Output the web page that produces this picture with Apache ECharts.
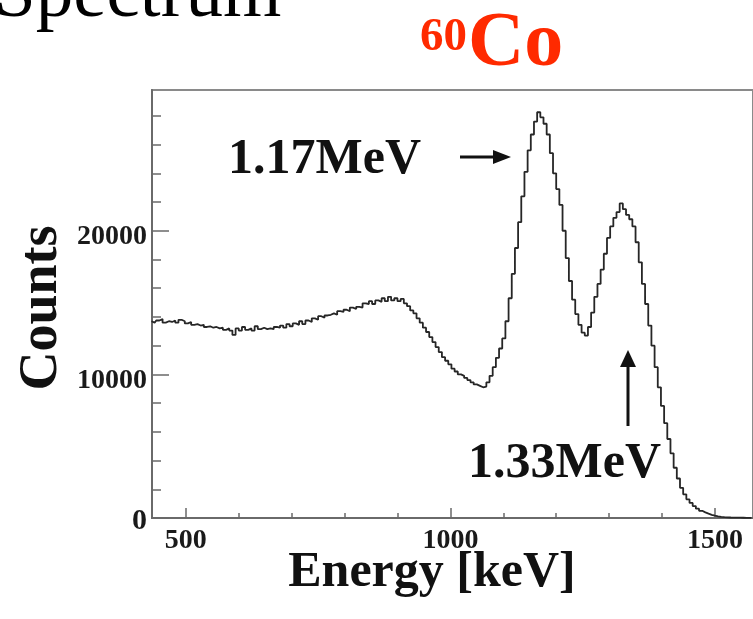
<!DOCTYPE html>
<html>
<head>
<meta charset="utf-8">
<script src="https://cdn.jsdelivr.net/npm/echarts@6/dist/echarts.min.js"></script>
<style>
  html, body { margin: 0; padding: 0; background: #ffffff; }
  #chart { width: 753px; height: 619px; }
</style>
</head>
<body>
<div id="chart"></div>
<script>
// 60Co gamma spectrum: histogram bins of 6 keV starting at 432 keV
const binStart = 432;
const binWidth = 6;
const counts = [
  13700, 13600, 13750, 13850, 13600, 13700, 13650, 13750, 13600, 13800,
  13700, 13550, 13650, 13450, 13500, 13400, 13450, 13300, 13350, 13250,
  13300, 13200, 13250, 13100, 13200, 13050, 12750, 13200, 13050, 13300,
  13100, 13200, 13050, 13350, 13150, 13250, 13150, 13200, 13150, 13300,
  13250, 13400, 13250, 13500, 13350, 13550, 13450, 13700, 13500, 13750,
  13650, 13900, 13800, 14050, 13950, 14100, 14150, 14250, 14150, 14400,
  14350, 14500, 14400, 14650, 14550, 14700, 14650, 14950, 14900, 15100,
  14900, 15150, 15050, 15300, 15100, 15400, 15150, 15300, 15100, 15250,
  14950, 14750, 14450, 14250, 13900, 13600, 13250, 12950, 12600, 12250,
  11900, 11550, 11200, 10950, 10700, 10400, 10200, 10000, 9900, 9750,
  9600, 9450, 9300, 9200, 9100, 9150, 9450, 9900, 10500, 11150,
  11800, 12500, 13700, 15300, 17000, 18800, 20600, 22400, 24100, 25600,
  26700, 27600, 28250, 27900, 27450, 26700, 25400, 24000, 22900, 21800,
  20000, 18100, 16500, 15200, 14200, 13450, 12900, 12700, 13300, 14300,
  15400, 16300, 17300, 18400, 19500, 20300, 20900, 21300, 21900, 21500,
  21100, 20800, 20300, 19200, 17800, 16300, 14900, 13400, 12000, 10500,
  9100, 7800, 6600, 5500, 4500, 3500, 2750, 2100, 1650, 1300,
  1050, 830, 650, 500, 390, 300, 220, 160, 110, 80,
  60, 45, 35, 30, 25, 20, 18, 15, 12, 10
];

// axis ranges and tick positions
const energyRange = [436, 1572];
const countRange = [0, 29800];
const energyTicks = [500, 1000, 1500];
const energyMinorTicks = [600, 700, 800, 900, 1100, 1200, 1300, 1400];
const countTicks = [0, 10000, 20000];
const countMinorTicks = [2000, 4000, 6000, 8000, 12000, 14000, 16000, 18000, 22000, 24000, 26000, 28000];

const serif = "'Liberation Serif', 'DejaVu Serif', serif";
const axisGray = '#6a6a6a';

const histData = counts.map((c, i) => [binStart + binWidth * (i + 0.5), c]);

const chart = echarts.init(document.getElementById('chart'), null, { renderer: 'canvas' });

chart.setOption({
  animation: false,
  backgroundColor: '#ffffff',
  grid: {
    left: 152, top: 90, right: -6, bottom: 101,
    show: true, borderColor: '#8a8a8a', borderWidth: 2, backgroundColor: 'transparent'
  },
  xAxis: [
    {
      type: 'value', position: 'bottom', min: energyRange[0], max: energyRange[1],
      axisLine: { show: true, onZero: false, lineStyle: { color: axisGray, width: 2 } },
      axisTick: { show: true, inside: true, length: 10, customValues: energyTicks, lineStyle: { color: axisGray, width: 1.5 } },
      axisLabel: {
        customValues: energyTicks, margin: 9,
        formatter: (v) => String(v),
        fontFamily: serif, fontWeight: 'bold', fontSize: 28, color: '#1a1a1a'
      },
      splitLine: { show: false }
    },
    {
      type: 'value', position: 'bottom', min: energyRange[0], max: energyRange[1],
      axisLine: { show: false },
      axisTick: { show: true, inside: true, length: 5, customValues: energyMinorTicks, lineStyle: { color: axisGray, width: 1.5 } },
      axisLabel: { show: false },
      splitLine: { show: false }
    }
  ],
  yAxis: [
    {
      type: 'value', position: 'left', min: countRange[0], max: countRange[1],
      axisLine: { show: true, onZero: false, lineStyle: { color: axisGray, width: 2 } },
      axisTick: { show: true, inside: true, length: 17, customValues: countTicks, lineStyle: { color: axisGray, width: 1.5 } },
      axisLabel: {
        customValues: countTicks, margin: 5,
        formatter: (v) => (v === 0 ? '{z|0}' : '{n|' + v + '}'),
        rich: {
          n: { fontFamily: serif, fontWeight: 'bold', fontSize: 28, color: '#1a1a1a', padding: [12, 0, 0, 0] },
          z: { fontFamily: serif, fontWeight: 'bold', fontSize: 30, color: '#1a1a1a', padding: [6, 0, 0, 0] }
        }
      },
      splitLine: { show: false }
    },
    {
      type: 'value', position: 'left', min: countRange[0], max: countRange[1],
      axisLine: { show: false },
      axisTick: { show: true, inside: true, length: 9, customValues: countMinorTicks, lineStyle: { color: axisGray, width: 1.5 } },
      axisLabel: { show: false },
      splitLine: { show: false }
    }
  ],
  series: [
    {
      type: 'line',
      xAxisIndex: 0, yAxisIndex: 0,
      data: histData,
      step: 'middle',
      showSymbol: false,
      symbol: 'none',
      clip: true,
      lineStyle: { color: '#262626', width: 1.8 }
    }
  ],
  graphic: [
    {
      type: 'text', x: -6, y: -4,
      style: { text: 'Spectrum', font: '75px ' + serif, fill: '#000000', align: 'left', verticalAlign: 'middle' }
    },
    {
      type: 'text', x: 420, y: 38,
      style: { text: '60', font: 'bold 47px ' + serif, fill: '#ff2a00', align: 'left', verticalAlign: 'middle' }
    },
    {
      type: 'text', x: 468, y: 45,
      style: { text: 'Co', font: 'bold 78px ' + serif, fill: '#ff2a00', align: 'left', verticalAlign: 'middle' }
    },
    {
      type: 'text', x: 228, y: 160,
      style: { text: '1.17MeV', font: 'bold 50px ' + serif, fill: '#111111', align: 'left', verticalAlign: 'middle' }
    },
    {
      type: 'text', x: 468, y: 464,
      style: { text: '1.33MeV', font: 'bold 50px ' + serif, fill: '#111111', align: 'left', verticalAlign: 'middle' }
    },
    {
      type: 'line', shape: { x1: 460, y1: 157, x2: 497, y2: 157 },
      style: { stroke: '#111111', lineWidth: 3 }
    },
    {
      type: 'polygon', shape: { points: [[493, 150], [511, 157], [493, 164]] },
      style: { fill: '#111111' }
    },
    {
      type: 'line', shape: { x1: 628, y1: 426, x2: 628, y2: 364 },
      style: { stroke: '#111111', lineWidth: 3 }
    },
    {
      type: 'polygon', shape: { points: [[620, 367], [628, 350], [636, 367]] },
      style: { fill: '#111111' }
    },
    {
      type: 'text', x: 432, y: 573,
      style: { text: 'Energy [keV]', font: 'bold 50px ' + serif, fill: '#111111', align: 'center', verticalAlign: 'middle' }
    },
    {
      type: 'text', x: 42, y: 308, rotation: Math.PI / 2,
      style: { text: 'Counts', font: 'bold 54px ' + serif, fill: '#111111', align: 'center', verticalAlign: 'middle' }
    }
  ]
});
</script>
</body>
</html>
